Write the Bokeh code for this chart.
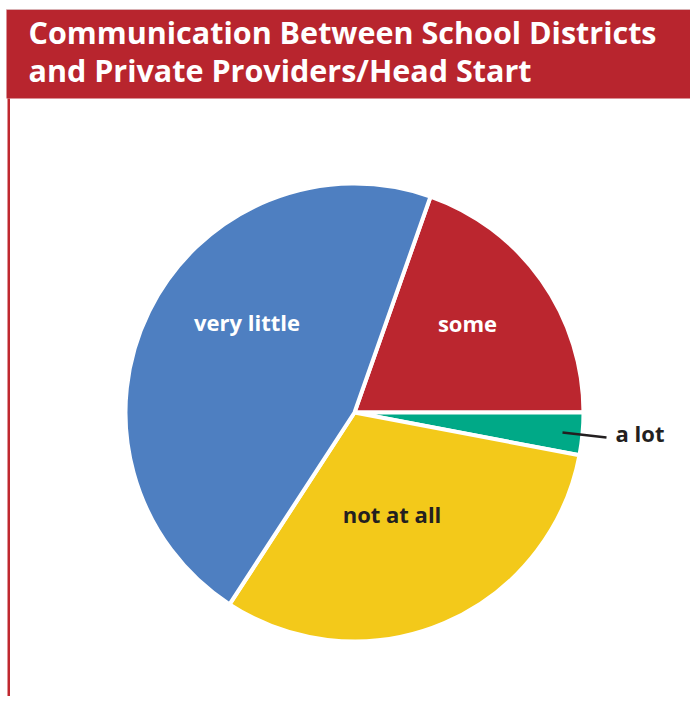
from bokeh.plotting import figure
from bokeh.models import Range1d
from bokeh.core.properties import value
from bokeh.embed import file_html
from bokeh.resources import INLINE
import numpy as np

# ---- data ----
categories = ["some", "a lot", "not at all", "very little"]
shares = [19.6, 3.0, 31.2, 46.2]
colors = ["#bb262f", "#00a987", "#f3c91a", "#4e7fc1"]
label_colors = ["white", "#231f20", "#231f20", "white"]
title_lines = ["Communication Between School Districts", "and Private Providers/Head Start"]

# ---- layout (pixel space, reference image coordinates) ----
W, H = 690, 696
def fx(x):
    return x
def fy(y):
    return H - y

cx, cy, R = fx(354), fy(412), 229
start_deg = 70.6
label_pos = [(467, 322), (639.5, 432), (391.5, 513), (246.5, 321)]

p = figure(width=W, height=H, output_backend="svg", toolbar_location=None,
           x_range=Range1d(0, W), y_range=Range1d(0, H), min_border=0)
p.axis.visible = False
p.grid.visible = False
p.outline_line_color = None
p.background_fill_color = "white"
p.border_fill_color = "white"

# title bar
p.quad(left=fx(6), right=W + 2, top=fy(9), bottom=fy(98), fill_color="#b8252e", line_color=None)
p.line([fx(6), W + 2], [fy(9), fy(9)], line_color="#d9b0b3", line_width=1)
# left border
p.quad(left=fx(7), right=fx(9.5), top=fy(98), bottom=-2, fill_color="#c0282f", line_color=None)

p.text(x=[fx(28), fx(28)], y=[fy(31), fy(69)], text=title_lines,
       text_font=value("Open Sans"), text_font_style="bold", text_font_size="30.5px",
       text_color="white", text_baseline="alphabetic", text_align="left")

# pie
total = float(sum(shares))
cum = np.cumsum([0] + shares)
starts = [np.deg2rad(start_deg - 360 * cum[i] / total) for i in range(len(shares))]
ends = [np.deg2rad(start_deg - 360 * cum[i + 1] / total) for i in range(len(shares))]
p.wedge(x=cx, y=cy, radius=R, start_angle=ends, end_angle=starts,
        fill_color=colors, line_color="white", line_width=4)

# leader line for "a lot"
p.line([fx(562), fx(606)], [fy(432), fy(437)], line_color="#231f20", line_width=2.5)

p.text(x=[fx(a) for a, b in label_pos], y=[fy(b) for a, b in label_pos], text=categories,
       text_font=value("Open Sans"), text_font_style="bold", text_font_size="22px",
       text_color=label_colors, text_align="center", text_baseline="alphabetic")

open("out.html", "w").write(file_html(p, INLINE))
